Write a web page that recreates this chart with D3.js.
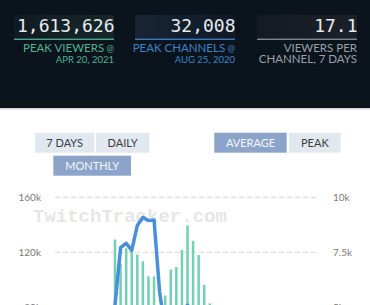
<!DOCTYPE html>
<html>
<head>
<meta charset="utf-8">
<script src="https://cdn.jsdelivr.net/npm/d3@7"></script>
<style>
  html, body { margin: 0; padding: 0; background: #ffffff; width: 370px; height: 305px; overflow: hidden; }
  svg { display: block; }
</style>
</head>
<body>
<div id="chart"></div>
<script>
// ---------- data ----------
const statValues = ["1,613,626", "32,008", "17.1"];
const statLabels = [["PEAK VIEWERS"], ["PEAK CHANNELS"], ["VIEWERS PER", "CHANNEL, 7 DAYS"]];
const statAt = [true, true, false];
const statDates = ["APR 20, 2021", "AUG 25, 2020", ""];

const periodButtons = ["7 DAYS", "DAILY", "MONTHLY"];
const selectedPeriod = "MONTHLY";
const modeButtons = ["AVERAGE", "PEAK"];
const selectedMode = "AVERAGE";

const months = [
  "2019-05","2019-06","2019-07","2019-08","2019-09","2019-10","2019-11","2019-12",
  "2020-01","2020-02","2020-03","2020-04","2020-05","2020-06","2020-07","2020-08",
  "2020-09","2020-10","2020-11","2020-12","2021-01","2021-02","2021-03","2021-04",
  "2021-05","2021-06","2021-07","2021-08","2021-09","2021-10","2021-11","2021-12",
  "2022-01","2022-02","2022-03","2022-04","2022-05","2022-06","2022-07","2022-08",
  "2022-09","2022-10","2022-11","2022-12","2023-01","2023-02","2023-03"
];
// average viewers per month (left axis)
const avgViewers = [
  8000, 10000, 9000, 12000, 35000, 62000, 70000, 58000, 60000, 66000,
  129300, 111500, 122900, 120600, 118400, 113500, 102500, 102500, 76000, 88600,
  107500, 109300, 121700, 139600, 128400, 118000, 96200, 82800,
  74000, 70000, 66000, 72000, 75000, 68000, 60000, 56000, 52000, 50000,
  54000, 48000, 45000, 47000, 50000, 44000, 42000, 40000, 41000
];
// average channels per month (right axis)
const avgChannels = [
  400, 500, 500, 700, 2000, 3600, 3900, 3400, 3500, 3900,
  5100, 7710, 7910, 7590, 8720, 9090, 8940, 8970, 5700, 4000,
  4300, 4600, 4800, 5100, 4800, 4600, 4300, 4000,
  3800, 3700, 3500, 3600, 3700, 3400, 3100, 3000, 2900, 2800,
  2900, 2700, 2600, 2600, 2700, 2500, 2400, 2300, 2300
];
const leftTicks = [80000, 120000, 160000];
const leftTickLabels = ["80k", "120k", "160k"];
const rightTicks = [5000, 7500, 10000];
const rightTickLabels = ["5k", "7.5k", "10k"];
const watermark = "TwitchTracker.com";

// ---------- layout ----------
const W = 370, H = 460;
const sansFont = "Lato, 'Noto Sans', sans-serif";
const svg = d3.select("#chart").append("svg").attr("width", W).attr("height", H);

// header
svg.append("rect").attr("x", 0).attr("y", 0).attr("width", W).attr("height", 108).attr("fill", "#0b131d");
svg.append("rect").attr("x", 0).attr("y", 108).attr("width", W).attr("height", 1.5).attr("fill", "#cfd3d8");

const defs = svg.append("defs");
const boxGrads = [["#0f1b21", "#18262c"], ["#182334", "#101a26"], ["#141a22", "#1c2129"]];
boxGrads.forEach((g, i) => {
  const lg = defs.append("linearGradient").attr("id", "bg" + i);
  lg.append("stop").attr("offset", "0%").attr("stop-color", g[0]);
  lg.append("stop").attr("offset", "100%").attr("stop-color", g[1]);
});

const boxX = [14, 135, 257];
const boxW = 100;
const lineColors = ["#46a886", "#3a79bd", "#7e858d"];
const labelColors = ["#4fb48f", "#3d83c8", "#9aa1a9"];

statValues.forEach((v, i) => {
  const g = svg.append("g");
  const x0 = boxX[i], x1 = boxX[i] + boxW;
  g.append("rect").attr("x", x0).attr("y", 15).attr("width", boxW).attr("height", 24)
    .attr("fill", `url(#bg${i})`);
  g.append("rect").attr("x", x0).attr("y", 38.6).attr("width", boxW).attr("height", 1.4)
    .attr("fill", lineColors[i]);
  g.append("text").attr("x", x1 + 0.5).attr("y", 31.7).attr("text-anchor", "end")
    .attr("font-family", "'DejaVu Sans Mono', monospace").attr("font-size", 18)
    .attr("fill", "#e6ebee").text(v);
  statLabels[i].forEach((l, j) => {
    const t = g.append("text").attr("x", x1).attr("y", 51.5 + j * 11.5).attr("text-anchor", "end")
      .attr("font-family", sansFont).attr("font-size", 11.5).attr("fill", labelColors[i]);
    t.append("tspan").text(l);
    if (statAt[i] && j === statLabels[i].length - 1) {
      t.append("tspan").attr("font-size", 9).text(" @");
    }
  });
  if (statDates[i]) {
    g.append("text").attr("x", x1).attr("y", 62.5).attr("text-anchor", "end")
      .attr("font-family", sansFont).attr("font-size", 9.5).attr("fill", labelColors[i])
      .text(statDates[i]);
  }
});

// buttons
function button(x, y, w, h, label, selected) {
  svg.append("rect").attr("x", x).attr("y", y).attr("width", w).attr("height", h)
    .attr("fill", selected ? "#8da4ca" : "#e2e8f0");
  svg.append("text").attr("x", x + w / 2).attr("y", y + h / 2).attr("dy", "0.36em")
    .attr("text-anchor", "middle").attr("font-family", sansFont).attr("font-size", 11)
    .attr("fill", selected ? "#f3f6fb" : "#3a3e44").text(label);
}
const periodPos = [[35, 132.7, 59.3], [96, 132.7, 53.3], [53.3, 155.7, 77.7]];
periodButtons.forEach((b, i) => button(periodPos[i][0], periodPos[i][1], periodPos[i][2], 20, b, b === selectedPeriod));
const modePos = [[214.3, 132.7, 72.4], [289, 132.7, 51.7]];
modeButtons.forEach((b, i) => button(modePos[i][0], modePos[i][1], modePos[i][2], 20, b, b === selectedMode));

// ---------- chart ----------
const plotL = 55, plotR = 317;
const yTop = 197.3, yBottom = 417.3;
const x = d3.scaleBand().domain(months).range([58, 317]).paddingInner(0.55).paddingOuter(0);
const yL = d3.scaleLinear().domain([0, 160000]).range([yBottom, yTop]);
const yR = d3.scaleLinear().domain([0, 10000]).range([yBottom, yTop]);

// gridlines
svg.append("g").selectAll("line").data(leftTicks).join("line")
  .attr("x1", plotL).attr("x2", plotR)
  .attr("y1", d => yL(d)).attr("y2", d => yL(d))
  .attr("stroke", "#d6d6d6").attr("stroke-width", 1).attr("stroke-dasharray", "5,3");

// left axis
const leftAxis = d3.axisLeft(yL).tickValues(leftTicks).tickFormat((d, i) => leftTickLabels[i]).tickSize(0).tickPadding(0);
const gl = svg.append("g").attr("transform", "translate(41,0)").call(leftAxis);
gl.select(".domain").remove();
gl.selectAll("text").attr("font-family", sansFont).attr("font-size", 10).attr("fill", "#7a7a7a");

// right axis
const rightAxis = d3.axisRight(yR).tickValues(rightTicks).tickFormat((d, i) => rightTickLabels[i]).tickSize(0).tickPadding(0);
const gr = svg.append("g").attr("transform", "translate(333,0)").call(rightAxis);
gr.select(".domain").remove();
gr.selectAll("text").attr("font-family", sansFont).attr("font-size", 10).attr("fill", "#7a7a7a");

// watermark
svg.append("text").attr("x", 33).attr("y", 221.7)
  .attr("font-family", "'Courier New', 'Liberation Mono', monospace").attr("font-weight", "bold")
  .attr("font-size", 19).attr("fill", "#e6e6e6").text(watermark);

// bars
svg.append("g").selectAll("rect").data(months).join("rect")
  .attr("x", d => x(d)).attr("width", x.bandwidth())
  .attr("y", (d, i) => yL(avgViewers[i]))
  .attr("height", (d, i) => yBottom - yL(avgViewers[i]))
  .attr("fill", "#74d0b2");

// line
const line = d3.line().x((d, i) => x(months[i]) + x.bandwidth() / 2).y(d => yR(d));
svg.append("path").datum(avgChannels).attr("d", line)
  .attr("fill", "none").attr("stroke", "#4a8fda").attr("stroke-width", 3.5)
  .attr("stroke-linejoin", "round").attr("stroke-linecap", "round");
</script>
</body>
</html>
